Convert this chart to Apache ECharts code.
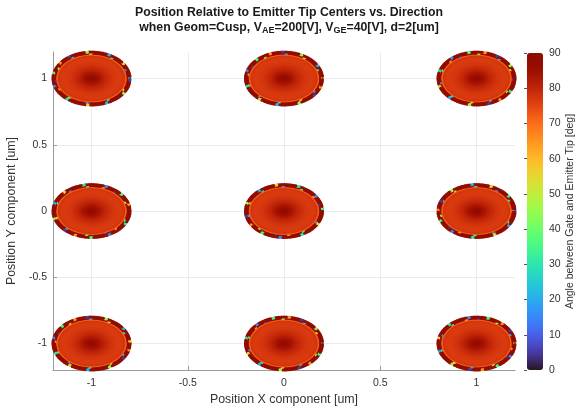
<!DOCTYPE html>
<html><head><meta charset="utf-8">
<script src="https://cdn.jsdelivr.net/npm/echarts@6/dist/echarts.min.js"></script>
<style>html,body{margin:0;padding:0;background:#fff}#chart{width:584px;height:414px}</style>
</head><body><div id="chart"></div>
<script>
// Emitter tip centers [um]
const tipX = [-1, 0, 1];
const tipY = [-1, 0, 1];
const tipRadius = 0.2;

// Angle across each tip, by ring (fraction of tip radius -> angle in deg)
const ringFrac  = [0, 0.04, 0.08, 0.12, 0.16, 0.2, 0.24, 0.28, 0.32, 0.36, 0.4, 0.44,
                   0.48, 0.52, 0.56, 0.6, 0.64, 0.68, 0.72, 0.76, 0.8, 0.84, 0.88, 0.915];
const ringAngle = [88, 87.5, 87, 86, 85, 84, 83, 82, 81, 80, 79.5, 79,
                   78.5, 78, 77.5, 77, 77, 76.5, 76.5, 76.5, 76.5, 77, 77.5, 72];

// Scattered outer rim of each tip
const rimFrac  = [0.955, 1.0];
const rimAngle = [90, 90, 89, 90, 90, 30, 90, 90, 88, 90, 90, 90, 55, 90, 89, 90,
                  90, 90, 20, 90, 90, 88, 90, 90, 90, 45, 90, 90, 90, 89, 90, 5,
                  90, 90, 90, 65, 90, 88, 90, 90, 35, 90, 90, 90, 89, 90, 15, 90];

const xTicks = [-1, -0.5, 0, 0.5, 1];
const yTicks = [-1, -0.5, 0, 0.5, 1];
const cbMin = 0, cbMax = 90, cbStep = 10;

// turbo colormap
function turbo(t) {
  const r = 0.13572138 + t*(4.61539260 + t*(-42.66032258 + t*(132.13108234 + t*(-152.94239396 + t*59.28637943))));
  const g = 0.09140261 + t*(2.19418839 + t*(4.84296658 + t*(-14.18503333 + t*(4.27729857 + t*2.82956604))));
  const b = 0.10667330 + t*(12.64194608 + t*(-60.58204836 + t*(110.36276771 + t*(-89.90310912 + t*27.34824973))));
  const c = v => Math.round(255 * Math.min(1, Math.max(0, v)));
  return 'rgb(' + c(r) + ',' + c(g) + ',' + c(b) + ')';
}
const turboStops = [];
for (let i = 0; i <= 64; i++) turboStops.push(turbo(i / 64));

// Build the point cloud around each tip center
const perUnit = 150;
const points = [];
tipY.forEach((cy, iy) => {
  tipX.forEach((cx, ix) => {
    ringFrac.forEach((f, k) => {
      const n = Math.max(1, Math.round(f * perUnit));
      for (let j = 0; j < n; j++) {
        const a = 2 * Math.PI * j / n;
        points.push([cx + tipRadius * f * Math.cos(a), cy + tipRadius * f * Math.sin(a), ringAngle[k]]);
      }
    });
    const offset = (iy * 3 + ix) * 7;
    rimFrac.forEach((f, k) => {
      const n = Math.round(f * perUnit);
      for (let j = 0; j < n; j++) {
        const a = 2 * Math.PI * j / n;
        const v = rimAngle[(Math.floor(j / 2) + offset + k * 11) % rimAngle.length];
        points.push([cx + tipRadius * f * Math.cos(a), cy + tipRadius * f * Math.sin(a), v]);
      }
    });
  });
});

const font = "'Liberation Sans', Arial, Helvetica, sans-serif";
const textGrey = '#333';
const axisGrey = '#9a9a9a';

const chart = echarts.init(document.getElementById('chart'), null, { renderer: 'canvas' });
chart.setOption({
  animation: false,
  backgroundColor: '#fff',
  title: {
    text: 'Position Relative to Emitter Tip Centers vs. Direction\nwhen Geom=Cusp, V{s|AE}=200[V], V{s|GE}=40[V], d=2[um]',
    left: 284, top: 0, textAlign: 'center',
    textStyle: {
      fontFamily: font, fontSize: 12.3, fontWeight: 'bold', color: '#1a1a1a', lineHeight: 15,
      rich: { s: { fontFamily: font, fontSize: 9, fontWeight: 'bold', color: '#1a1a1a', padding: [7, 0, 0, 0], verticalAlign: 'bottom' } }
    }
  },
  grid: [
    { left: 53, right: 69, top: 52, bottom: 44, containLabel: false, outerBoundsMode: 'none' },
    { left: 527, top: 53, width: 16, height: 317, containLabel: false, outerBoundsMode: 'none' }
  ],
  xAxis: [
    {
      type: 'value', gridIndex: 0, min: -1.2, max: 1.2,
      name: 'Position X component [um]', nameLocation: 'middle', nameGap: 20,
      nameTextStyle: { fontFamily: font, fontSize: 12.4, color: textGrey },
      axisLine: { show: true, onZero: false, lineStyle: { color: axisGrey } },
      axisTick: { show: true, inside: true, length: 4, customValues: xTicks, lineStyle: { color: axisGrey } },
      axisLabel: { customValues: xTicks, fontFamily: font, fontSize: 10.5, color: textGrey, margin: 8 },
      splitLine: { show: true, lineStyle: { color: '#ebebeb' } }
    },
    { type: 'value', gridIndex: 1, min: 0, max: 1, show: false }
  ],
  yAxis: [
    {
      type: 'value', gridIndex: 0, min: -1.2, max: 1.2,
      name: 'Position Y component [um]', nameLocation: 'middle', nameGap: 28,
      nameTextStyle: { fontFamily: font, fontSize: 12.4, color: textGrey },
      axisLine: { show: true, onZero: false, lineStyle: { color: axisGrey } },
      axisTick: { show: true, inside: true, length: 4, customValues: yTicks, lineStyle: { color: axisGrey } },
      axisLabel: { customValues: yTicks, fontFamily: font, fontSize: 10.5, color: textGrey, margin: 6 },
      splitLine: { show: true, lineStyle: { color: '#ebebeb' } }
    },
    {
      type: 'value', gridIndex: 1, min: cbMin, max: cbMax, interval: cbStep, position: 'right',
      name: 'Angle between Gate and Emitter Tip [deg]', nameLocation: 'middle', nameGap: 20, nameRotate: 90,
      nameTextStyle: { fontFamily: font, fontSize: 10.5, color: textGrey },
      axisLine: { show: false },
      axisTick: { show: true, inside: true, length: 3, lineStyle: { color: '#555' } },
      axisLabel: { fontFamily: font, fontSize: 10.5, color: textGrey, margin: 6 },
      splitLine: { show: false }
    }
  ],
  visualMap: {
    type: 'continuous', min: cbMin, max: cbMax, seriesIndex: 0, dimension: 2,
    orient: 'vertical', left: 527, top: 53, itemWidth: 16, itemHeight: 317,
    padding: 0, calculable: false, realtime: false, hoverLink: false,
    inRange: { color: turboStops }
  },
  series: [{
    type: 'scatter', xAxisIndex: 0, yAxisIndex: 0,
    symbol: 'circle', symbolSize: 3, silent: true, progressive: 0,
    itemStyle: { opacity: 1 },
    data: points
  }]
});
</script>
</body></html>
